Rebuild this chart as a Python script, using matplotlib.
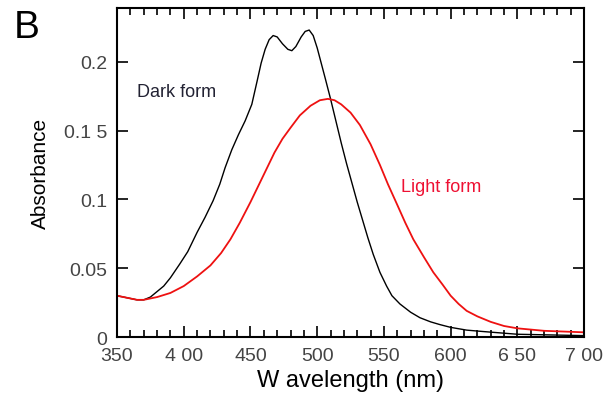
import numpy as np
import matplotlib.pyplot as plt
from matplotlib.ticker import MultipleLocator

plt.rcParams['font.family'] = ['Liberation Sans', 'DejaVu Sans']

# dark form spectrum (black)
dark_wl = [350, 355, 360, 365, 370, 375, 380, 385, 390, 397, 403, 410, 416, 422, 427,
           431, 436, 441, 446, 451, 455, 458, 461, 464, 467, 470, 474, 478, 481, 484,
           488, 491, 494, 497, 500, 503, 506, 510, 514, 518, 522, 526, 530, 534, 538,
           542, 547, 552, 556, 562, 570, 577, 585, 592, 600, 612, 624, 650, 675, 700]
dark_abs = [0.030, 0.029, 0.028, 0.027, 0.027, 0.029, 0.033, 0.037, 0.043, 0.053, 0.062,
            0.076, 0.087, 0.099, 0.111, 0.123, 0.136, 0.147, 0.157, 0.169, 0.186, 0.199,
            0.209, 0.216, 0.219, 0.218, 0.213, 0.209, 0.208, 0.211, 0.218, 0.222, 0.223,
            0.219, 0.210, 0.199, 0.188, 0.173, 0.157, 0.141, 0.126, 0.112, 0.098, 0.085,
            0.072, 0.060, 0.047, 0.037, 0.030, 0.024, 0.018, 0.014, 0.011, 0.009, 0.007,
            0.005, 0.004, 0.002, 0.0015, 0.001]

# light form spectrum (red)
light_wl = [350, 355, 360, 365, 370, 375, 380, 390, 400, 410, 420, 428, 435, 442, 450,
            456, 462, 468, 474, 480, 487, 495, 502, 508, 513, 518, 525, 532, 540, 547,
            553, 560, 566, 572, 580, 587, 594, 600, 606, 612, 620, 630, 640, 650, 670,
            700]
light_abs = [0.030, 0.029, 0.028, 0.027, 0.027, 0.028, 0.029, 0.032, 0.037, 0.044, 0.052,
             0.061, 0.071, 0.083, 0.098, 0.110, 0.122, 0.134, 0.144, 0.152, 0.161, 0.168,
             0.172, 0.173, 0.172, 0.169, 0.163, 0.154, 0.140, 0.125, 0.111, 0.096, 0.083,
             0.071, 0.058, 0.047, 0.038, 0.030, 0.024, 0.019, 0.015, 0.011, 0.008, 0.0063,
             0.0045, 0.0034]

x_ticks = [350, 400, 450, 500, 550, 600, 650, 700]
x_tick_labels = ['350', '4 00', '450', '500', '550', '600', '6 50', '7 00']
y_ticks = [0, 0.05, 0.1, 0.15, 0.2]
y_tick_labels = ['0', '0.05', '0.1', '0.1 5', '0.2']

fig = plt.figure(figsize=(6.11, 4.10), dpi=100)
ax = fig.add_axes([0.1915, 0.1756, 0.7645, 0.8024])

ax.plot(dark_wl, dark_abs, color='black', lw=1.0)
ax.plot(light_wl, light_abs, color='#ee1111', lw=1.3)

ax.set_xlim(350, 700)
ax.set_ylim(0, 0.239)
ax.set_xticks(x_ticks)
ax.set_xticklabels(x_tick_labels)
ax.set_yticks(y_ticks)
ax.set_yticklabels(y_tick_labels)
ax.xaxis.set_minor_locator(MultipleLocator(10))

ax.tick_params(which='both', direction='in', top=True, right=True, labelsize=14,
               width=1.2, colors='black')
ax.tick_params(which='major', length=8, pad=7)
ax.tick_params(which='minor', length=5)
for lbl in ax.get_xticklabels() + ax.get_yticklabels():
    lbl.set_color('#444444')
for s in ax.spines.values():
    s.set_linewidth(1.5)

ax.set_xlabel('W avelength (nm)', fontsize=17, labelpad=4)
ax.set_ylabel('Absorbance', fontsize=15, labelpad=10)

ax.text(365, 0.178, 'Dark form', fontsize=13, color='#222233', va='center')
ax.text(563, 0.109, 'Light form', fontsize=13, color='#ee1133', va='center')
fig.text(0.022, 0.975, 'B', fontsize=28, va='top', ha='left')

fig.savefig('out.png', dpi=100)
